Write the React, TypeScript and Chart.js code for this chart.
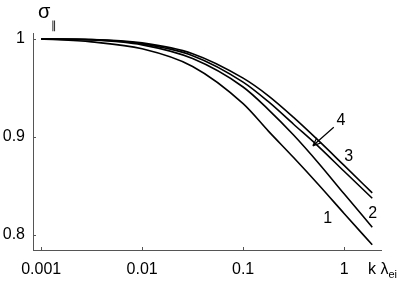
import React, { useEffect, useRef } from "react";
import { Chart, registerables } from "chart.js";
Chart.register(...registerables);

// k * lambda_ei sample points
const kLambda = [0.001, 0.00316, 0.01, 0.0316, 0.1, 0.178, 0.316, 0.562, 1, 1.9];
// sigma_parallel for the four curves
const curve1 = [1.0, 0.997, 0.99, 0.972, 0.934, 0.906, 0.879, 0.851, 0.822, 0.79];
const curve2 = [1.0, 0.999, 0.994, 0.98, 0.951, 0.928, 0.902, 0.873, 0.842, 0.808];
const curve3 = [1.0, 0.9995, 0.996, 0.985, 0.96, 0.942, 0.92, 0.896, 0.871, 0.843];
const curve4 = [1.0, 0.9993, 0.995, 0.983, 0.956, 0.936, 0.913, 0.89, 0.865, 0.8375];

const xTicks = [0.001, 0.01, 0.1, 1];
const yTicks = [0.8, 0.9, 1];
const xTickLabels = ["0.001", "0.01", "0.1", "1"];
const yTickLabels = ["0.8", "0.9", "1"];

const curveLabels = ["1", "2", "3", "4"];
const labelK = [0.69, 1.92, 1.11, 0.93];
const labelS = [0.817, 0.822, 0.88, 0.917];
const arrowFrom = [0.79, 0.91];
const arrowTo = [0.49, 0.891];

const FONT = '"Liberation Sans", Arial, Helvetica, sans-serif';

const annotPlugin = {
  id: "annot",
  afterDraw(chart: any) {
    const { ctx, scales, chartArea } = chart;
    const x = scales.x;
    const y = scales.y;
    ctx.save();
    // inward ticks
    ctx.strokeStyle = "#555";
    ctx.lineWidth = 1;
    ctx.beginPath();
    xTicks.forEach((v) => {
      const px = Math.round(x.getPixelForValue(v)) + 0.5;
      ctx.moveTo(px, chartArea.bottom);
      ctx.lineTo(px, chartArea.bottom - 3);
    });
    yTicks.forEach((v) => {
      const py = Math.round(y.getPixelForValue(v)) + 0.5;
      ctx.moveTo(chartArea.left, py);
      ctx.lineTo(chartArea.left + 3, py);
    });
    ctx.stroke();

    // curve labels
    ctx.fillStyle = "#000";
    ctx.font = "16px " + FONT;
    ctx.textAlign = "center";
    ctx.textBaseline = "middle";
    curveLabels.forEach((t, i) => {
      ctx.fillText(t, x.getPixelForValue(labelK[i]), y.getPixelForValue(labelS[i]));
    });

    // arrow
    const x0 = x.getPixelForValue(arrowFrom[0]);
    const y0 = y.getPixelForValue(arrowFrom[1]);
    const x1 = x.getPixelForValue(arrowTo[0]);
    const y1 = y.getPixelForValue(arrowTo[1]);
    ctx.strokeStyle = "#000";
    ctx.lineWidth = 1.2;
    ctx.beginPath();
    ctx.moveTo(x0, y0);
    ctx.lineTo(x1, y1);
    const ang = Math.atan2(y1 - y0, x1 - x0);
    const hl = 9;
    const ha = 0.38;
    ctx.moveTo(x1, y1);
    ctx.lineTo(x1 - hl * Math.cos(ang - ha), y1 - hl * Math.sin(ang - ha));
    ctx.moveTo(x1, y1);
    ctx.lineTo(x1 - hl * Math.cos(ang + ha), y1 - hl * Math.sin(ang + ha));
    ctx.stroke();

    // y title sigma_parallel
    ctx.textAlign = "left";
    ctx.textBaseline = "alphabetic";
    ctx.font = "20px " + FONT;
    ctx.fillText("σ", chartArea.left + 5, chartArea.top - 15);
    ctx.font = "11px " + FONT;
    ctx.fillText("∥", chartArea.left + 18, chartArea.top - 4);

    // x title k lambda_ei
    const base = chartArea.bottom + 24;
    ctx.font = "16px " + FONT;
    ctx.fillText("k λ", chartArea.right - 13, base);
    const w = ctx.measureText("k λ").width;
    ctx.font = "11px " + FONT;
    ctx.fillText("ei", chartArea.right - 13 + w, base + 4);
    ctx.restore();
  },
};

export default function App() {
  const ref = useRef<HTMLCanvasElement | null>(null);
  useEffect(() => {
    if (!ref.current) return;
    const mk = (d: number[]) => ({
      data: d.map((v, i) => ({ x: kLambda[i], y: v })),
      borderColor: "#000",
      borderWidth: 1.6,
      pointRadius: 0,
      fill: false,
      cubicInterpolationMode: "monotone" as const,
    });
    const chart = new Chart(ref.current, {
      type: "line",
      data: {
        datasets: [mk(curve1), mk(curve2), mk(curve3), mk(curve4)],
      },
      options: {
        animation: false,
        responsive: false,
        layout: { padding: { top: 33, right: 28, left: 0, bottom: 0 } },
        plugins: { legend: { display: false }, tooltip: { enabled: false } },
        scales: {
          x: {
            type: "logarithmic",
            min: 0.00083,
            max: 2.32,
            grid: { display: false, drawTicks: false },
            border: { display: true, color: "#555", width: 1 },
            afterBuildTicks: (s: any) => {
              s.ticks = xTicks.map((v) => ({ value: v }));
            },
            afterFit: (s: any) => {
              s.height = 33;
            },
            ticks: {
              autoSkip: false,
              maxRotation: 0,
              padding: 10,
              color: "#000",
              font: { family: FONT, size: 16 },
              callback: (v: any) => {
                const i = xTicks.indexOf(Number(v));
                return i >= 0 ? xTickLabels[i] : "";
              },
            },
          },
          y: {
            type: "linear",
            min: 0.7847,
            max: 1.0061,
            grid: { display: false, drawTicks: false },
            border: { display: true, color: "#555", width: 1 },
            afterBuildTicks: (s: any) => {
              s.ticks = yTicks.map((v) => ({ value: v }));
            },
            afterFit: (s: any) => {
              s.width = 33;
            },
            ticks: {
              autoSkip: false,
              padding: 8,
              color: "#000",
              font: { family: FONT, size: 16 },
              callback: (v: any) => {
                const i = yTicks.findIndex((t) => Math.abs(t - Number(v)) < 1e-9);
                return i >= 0 ? yTickLabels[i] : "";
              },
            },
          },
        },
      },
      plugins: [annotPlugin],
    });
    return () => chart.destroy();
  }, []);
  return (
    <div style={{ position: "absolute", left: 0, top: 0, width: 409, height: 283, background: "#fff" }}>
      <canvas ref={ref} width={409} height={283} />
    </div>
  );
}
